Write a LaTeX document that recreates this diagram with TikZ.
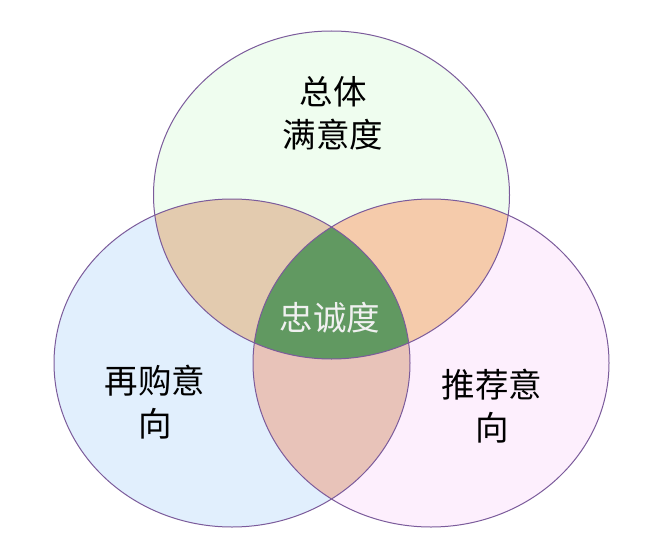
\documentclass[tikz,border=0pt]{standalone}
\usepackage{fontspec}
\newfontfamily\cjk{Noto Sans CJK SC}
\definecolor{topc}{HTML}{EFFDEF}
\definecolor{leftc}{HTML}{E1EFFD}
\definecolor{rightc}{HTML}{FDEFFD}
\definecolor{tlc}{HTML}{E3CBAF}
\definecolor{trc}{HTML}{F5CBAB}
\definecolor{lrc}{HTML}{E8C3B9}
\definecolor{midc}{HTML}{619961}
\definecolor{edgec}{HTML}{7B5B9B}
\begin{document}
\begin{tikzpicture}[x=1pt,y=-1pt,
  lbl/.style={font=\cjk\fontsize{33.5}{43}\selectfont,align=center,text=black,inner sep=0pt},
  edge/.style={draw=edgec,line width=1pt}]
\useasboundingbox (0,0) rectangle (650,559);
\fill[white] (0,0) rectangle (650,559);
\def\topE{(331.5,195) ellipse [x radius=178, y radius=164]}
\def\leftE{(232,363) ellipse [x radius=178, y radius=164]}
\def\rightE{(431,363) ellipse [x radius=178, y radius=164]}
\fill[topc] \topE;
\fill[leftc] \leftE;
\fill[rightc] \rightE;
\begin{scope}\clip \topE; \fill[tlc] \leftE; \end{scope}
\begin{scope}\clip \topE; \fill[trc] \rightE; \end{scope}
\begin{scope}\clip \leftE; \fill[lrc] \rightE; \end{scope}
\begin{scope}\clip \topE; \clip \leftE; \fill[midc] \rightE; \end{scope}
\draw[edge] \topE;
\draw[edge] \leftE;
\draw[edge] \rightE;
\node[lbl] (top) at (333,113) {总体\\满意度};
\node[lbl] (left) at (155,402) {再购意\\向};
\node[lbl] (right) at (492,406) {推荐意\\向};
\node[lbl,text=white!94!black] (mid) at (330,318) {忠诚度};
\end{tikzpicture}
\end{document}
